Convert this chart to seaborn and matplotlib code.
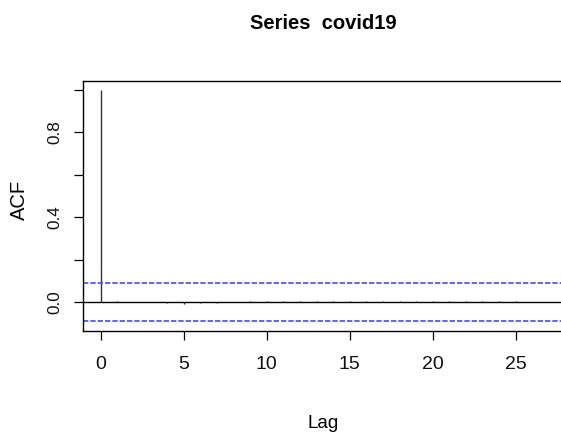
import matplotlib
matplotlib.use('Agg')
import matplotlib.pyplot as plt
import seaborn as sns

# valores do ACF (lag 0..25)
lags = list(range(26))
acf_vals = [1.0, 0.006, 0.001, 0.0, -0.004, -0.008, -0.005, -0.005, 0.0,
            0.004, 0.004, 0.004, 0.004, 0.004, 0.004, 0.004, 0.004, 0.004,
            0.004, 0.004, 0.004, 0.004, 0.004, 0.004, 0.004, 0.004]
conf = 0.089
x_ticks = [0, 5, 10, 15, 20, 25]
y_ticks = [0.0, 0.2, 0.4, 0.6, 0.8, 1.0]
y_labels = ['0.0', '', '0.4', '', '0.8', '']

sns.set_style('ticks')
plt.rcParams['font.family'] = ['Liberation Sans', 'DejaVu Sans']
plt.rcParams['text.color'] = 'black'

fig = plt.figure(figsize=(5.61, 4.34), dpi=100)
ax = fig.add_axes([0.1485, 0.238, 1.0 - 0.1485, 0.576])

ax.vlines(lags, 0, acf_vals, color='#333333', lw=1.0)
ax.axhline(0, color='black', lw=1.0)
# bandas de confianca
ax.axhline(conf, color='#4646ff', lw=1.2, ls=(0, (3.2, 1.2)))
ax.axhline(-conf, color='#4646ff', lw=1.2, ls=(0, (3.2, 1.2)))

ax.set_xlim(-1.05, 27.73)
ax.set_ylim(-0.134, 1.043)
ax.set_xticks(x_ticks)
ax.set_xticklabels([str(t) for t in x_ticks], fontsize=14)
ax.set_yticks(y_ticks)
ax.set_yticklabels(y_labels, rotation=90, va='center', fontsize=12.3)
ax.tick_params(axis='x', length=6.5, width=0.9, pad=12, colors='black',
               labelcolor='#111111')
ax.tick_params(axis='y', length=6.5, width=0.9, pad=8.5, colors='black',
               labelcolor='#111111')
for side in ['left', 'bottom', 'top']:
    ax.spines[side].set_color('black')
    ax.spines[side].set_linewidth(1.0)
ax.spines['right'].set_visible(False)

fig.text(323 / 561, 1 - 29 / 434, 'Series  covid19', ha='center', va='baseline',
         fontsize=14.5, fontweight='bold')
fig.text(323 / 561, 1 - 428 / 434, 'Lag', ha='center', va='baseline', fontsize=13.5)
fig.text(19 / 561, 1 - 200 / 434, 'ACF', ha='center', va='center', rotation=90,
         fontsize=14.5)

fig.savefig('out.png', dpi=100)
